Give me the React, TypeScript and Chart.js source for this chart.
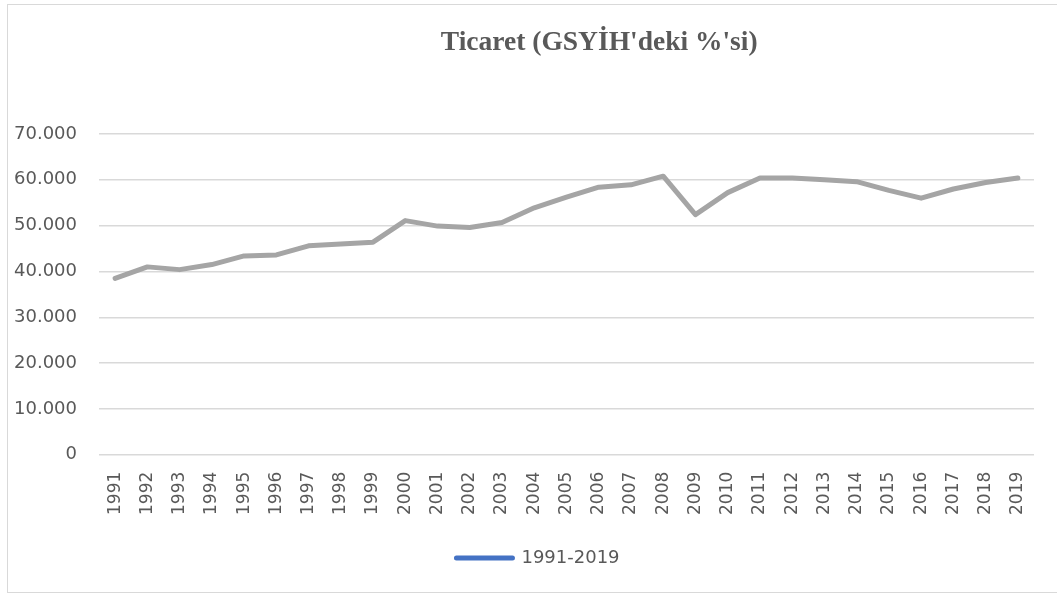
import React, { useEffect, useRef } from "react";
import { Chart, registerables } from "chart.js";

Chart.register(...registerables);

const chartTitle = "Ticaret (GSYİH'deki %'si)";
const seriesLabel = "1991-2019";
const years = [
  "1991", "1992", "1993", "1994", "1995", "1996", "1997", "1998", "1999", "2000",
  "2001", "2002", "2003", "2004", "2005", "2006", "2007", "2008", "2009", "2010",
  "2011", "2012", "2013", "2014", "2015", "2016", "2017", "2018", "2019",
];
const tradeShare = [
  38.5, 41.0, 40.4, 41.5, 43.4, 43.6, 45.6, 46.0, 46.4, 51.1,
  49.9, 49.6, 50.7, 53.9, 56.2, 58.4, 58.9, 60.8, 52.4, 57.2,
  60.4, 60.4, 60.0, 59.6, 57.7, 56.0, 58.0, 59.4, 60.4,
];
const yMin = 0;
const yMax = 70;
const yStep = 10;

const TEXT = "#595959";
const FONT = "'DejaVu Sans', sans-serif";

const titlePlugin = {
  id: "offsetTitle",
  afterDraw(chart: any) {
    const { ctx, chartArea } = chart;
    ctx.save();
    ctx.font = "bold 27.5px 'Liberation Serif', 'Times New Roman', serif";
    ctx.fillStyle = TEXT;
    ctx.textAlign = "center";
    ctx.textBaseline = "middle";
    const cx = chartArea.left + (chartArea.right - chartArea.left) * 0.535;
    ctx.fillText(chartTitle, cx, 38);
    ctx.restore();
  },
};

const legendShiftPlugin = {
  id: "legendShift",
  afterLayout(chart: any) {
    const lg = chart.legend;
    if (lg) {
      lg.left += 16;
      lg.right += 16;
    }
  },
};

export default function App() {
  const ref = useRef<HTMLCanvasElement | null>(null);
  useEffect(() => {
    if (!ref.current) return;
    const chart = new Chart(ref.current, {
      type: "line",
      data: {
        labels: years,
        datasets: [
          {
            label: seriesLabel,
            data: tradeShare,
            borderColor: "#A5A5A5",
            backgroundColor: "#A5A5A5",
            borderWidth: 5,
            pointRadius: 0,
            pointHoverRadius: 0,
            tension: 0,
            borderJoinStyle: "round",
            borderCapStyle: "round",
          },
        ],
      },
      options: {
        animation: false,
        responsive: true,
        maintainAspectRatio: false,
        layout: { padding: { top: 129, left: 2, right: 23, bottom: 15 } },
        plugins: {
          title: { display: false },
          tooltip: { enabled: false },
          legend: {
            display: true,
            position: "bottom",
            labels: {
              color: TEXT,
              font: { family: FONT, size: 18 },
              usePointStyle: true,
              pointStyleWidth: 56,
              padding: 17,
              generateLabels: () => [
                {
                  text: seriesLabel,
                  fillStyle: "#4472C4",
                  strokeStyle: "#4472C4",
                  lineWidth: 5,
                  lineCap: "round",
                  pointStyle: "line",
                  hidden: false,
                  datasetIndex: 0,
                  fontColor: TEXT,
                } as any,
              ],
            },
          },
        },
        scales: {
          x: {
            offset: true,
            grid: { display: false, drawTicks: false, offset: true },
            border: { display: false },
            ticks: {
              color: TEXT,
              font: { family: FONT, size: 17 },
              minRotation: 90,
              maxRotation: 90,
              autoSkip: false,
              padding: 17,
            },
          },
          y: {
            min: yMin,
            max: yMax,
            grid: { color: "#D9D9D9", lineWidth: 1.5, drawTicks: false },
            border: { display: false },
            afterFit: (scale: any) => {
              scale.width = 89;
            },
            ticks: {
              stepSize: yStep,
              color: TEXT,
              font: { family: FONT, size: 18 },
              padding: 22,
              callback: (v: any) => (Number(v) === 0 ? "0" : Number(v).toFixed(3)),
            },
          },
        },
      },
      plugins: [titlePlugin, legendShiftPlugin],
    });
    return () => chart.destroy();
  }, []);

  return (
    <div
      style={{
        position: "absolute",
        left: 7,
        top: 4,
        width: 1050,
        height: 589,
        boxSizing: "border-box",
        borderTop: "1px solid #D9D9D9",
        borderLeft: "1px solid #D9D9D9",
        borderBottom: "1px solid #D9D9D9",
        background: "#fff",
      }}
    >
      <canvas ref={ref} />
    </div>
  );
}
